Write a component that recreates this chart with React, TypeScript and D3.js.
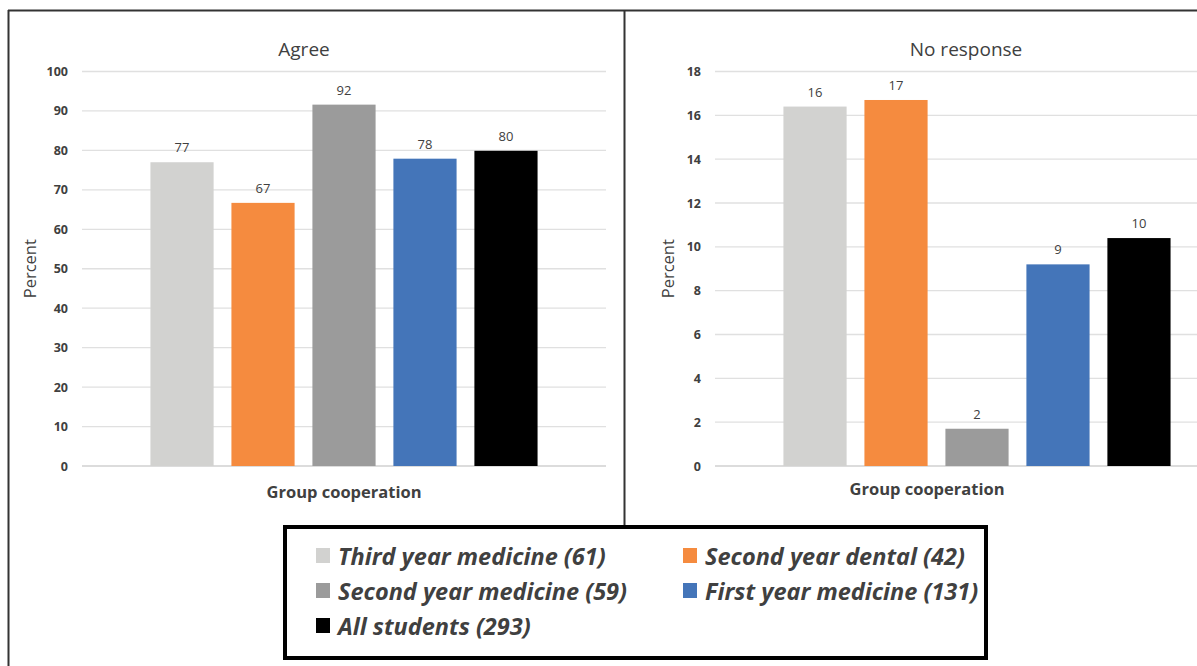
import React from 'react'
import * as d3 from 'd3'

const groups = [
  'Third year medicine (61)',
  'Second year dental (42)',
  'Second year medicine (59)',
  'First year medicine (131)',
  'All students (293)',
]
const colors = ['#d2d2d0', '#f58b3f', '#9b9b9b', '#4475b9', '#000000']
const agreeValues = [77.0, 66.7, 91.6, 77.9, 79.9]
const noResponseValues = [16.4, 16.7, 1.7, 9.2, 10.4]
const agreeTicks = [0, 10, 20, 30, 40, 50, 60, 70, 80, 90, 100]
const noResponseTicks = [0, 2, 4, 6, 8, 10, 12, 14, 16, 18]
const category = 'Group cooperation'

const FONT = '"Open Sans", Lato, sans-serif'

type PanelProps = {
  title: string
  values: number[]
  ticks: number[]
  x0: number
  x1: number
  titleX: number
  catX: number
  catY: number
  yLabelX: number
}

const Panel: React.FC<PanelProps> = ({
  title,
  values,
  ticks,
  x0,
  x1,
  titleX,
  catX,
  catY,
  yLabelX,
}) => {
  const top = 71.5
  const bottom = 466
  const y = d3
    .scaleLinear()
    .domain([0, d3.max(ticks)!])
    .range([bottom, top])
  const x = d3
    .scaleBand()
    .domain(groups)
    .range([x0, x1])
    .paddingInner(0.22)
    .paddingOuter(0.845)

  return (
    <g>
      <text
        x={titleX}
        y={56}
        textAnchor="middle"
        fontSize={19}
        fill="#404040"
        fontFamily={FONT}
      >
        {title}
      </text>
      {ticks.map((t) => (
        <g key={t}>
          <line
            x1={x0}
            x2={x1}
            y1={y(t)}
            y2={y(t)}
            stroke={t === 0 ? '#d0d0d0' : '#e0e0e0'}
            strokeWidth={1.3}
          />
          <text
            x={x0 - 14}
            y={y(t) + 4.5}
            textAnchor="end"
            fontSize={12.5}
            fontWeight="bold"
            fill="#404040"
            fontFamily={FONT}
          >
            {t}
          </text>
        </g>
      ))}
      {values.map((v, i) => (
        <g key={groups[i]}>
          <rect
            x={x(groups[i])}
            y={y(v)}
            width={x.bandwidth()}
            height={bottom - y(v)}
            fill={colors[i]}
          />
          <text
            x={x(groups[i])! + x.bandwidth() / 2}
            y={y(v) - 10}
            textAnchor="middle"
            fontSize={13}
            fill="#404040"
            fontFamily={FONT}
          >
            {Math.round(v)}
          </text>
        </g>
      ))}
      <text
        x={catX}
        y={catY}
        textAnchor="middle"
        fontSize={16.5}
        fontWeight="bold"
        fill="#404040"
        fontFamily={FONT}
      >
        {category}
      </text>
      <text
        transform={`translate(${yLabelX},${(top + bottom) / 2}) rotate(-90)`}
        textAnchor="middle"
        fontSize={16.5}
        fill="#404040"
        fontFamily={FONT}
      >
        Percent
      </text>
    </g>
  )
}

const legendPos = [
  { x: 316, y: 556 },
  { x: 683, y: 556 },
  { x: 316, y: 591 },
  { x: 683, y: 591 },
  { x: 316, y: 626 },
]

export default function App() {
  return (
    <svg
      width={1197}
      height={666}
      style={{ position: 'absolute', left: 0, top: 0, background: '#fff' }}
    >
      <rect x={0} y={0} width={1197} height={666} fill="#fff" />
      <line x1={8} x2={1197} y1={10.5} y2={10.5} stroke="#333" strokeWidth={2} />
      <line x1={8.5} x2={8.5} y1={10} y2={666} stroke="#333" strokeWidth={2} />
      <line x1={624.5} x2={624.5} y1={10} y2={526} stroke="#333" strokeWidth={2} />

      <Panel
        title="Agree"
        values={agreeValues}
        ticks={agreeTicks}
        x0={82}
        x1={606}
        titleX={304}
        catX={344}
        catY={498}
        yLabelX={36}
      />
      <Panel
        title="No response"
        values={noResponseValues}
        ticks={noResponseTicks}
        x0={715}
        x1={1239}
        titleX={966}
        catX={927}
        catY={495}
        yLabelX={674}
      />

      <rect
        x={285}
        y={527}
        width={701}
        height={131}
        fill="#fff"
        stroke="#000"
        strokeWidth={4}
      />
      {groups.map((g, i) => (
        <g key={g}>
          <rect
            x={legendPos[i].x}
            y={legendPos[i].y - 8}
            width={14}
            height={15}
            fill={colors[i]}
          />
          <text
            x={legendPos[i].x + 22}
            y={legendPos[i].y + 8.5}
            fontSize={23.5}
            fontWeight="bold"
            fontStyle="italic"
            fill="#404040"
            fontFamily={FONT}
          >
            {g}
          </text>
        </g>
      ))}
    </svg>
  )
}
